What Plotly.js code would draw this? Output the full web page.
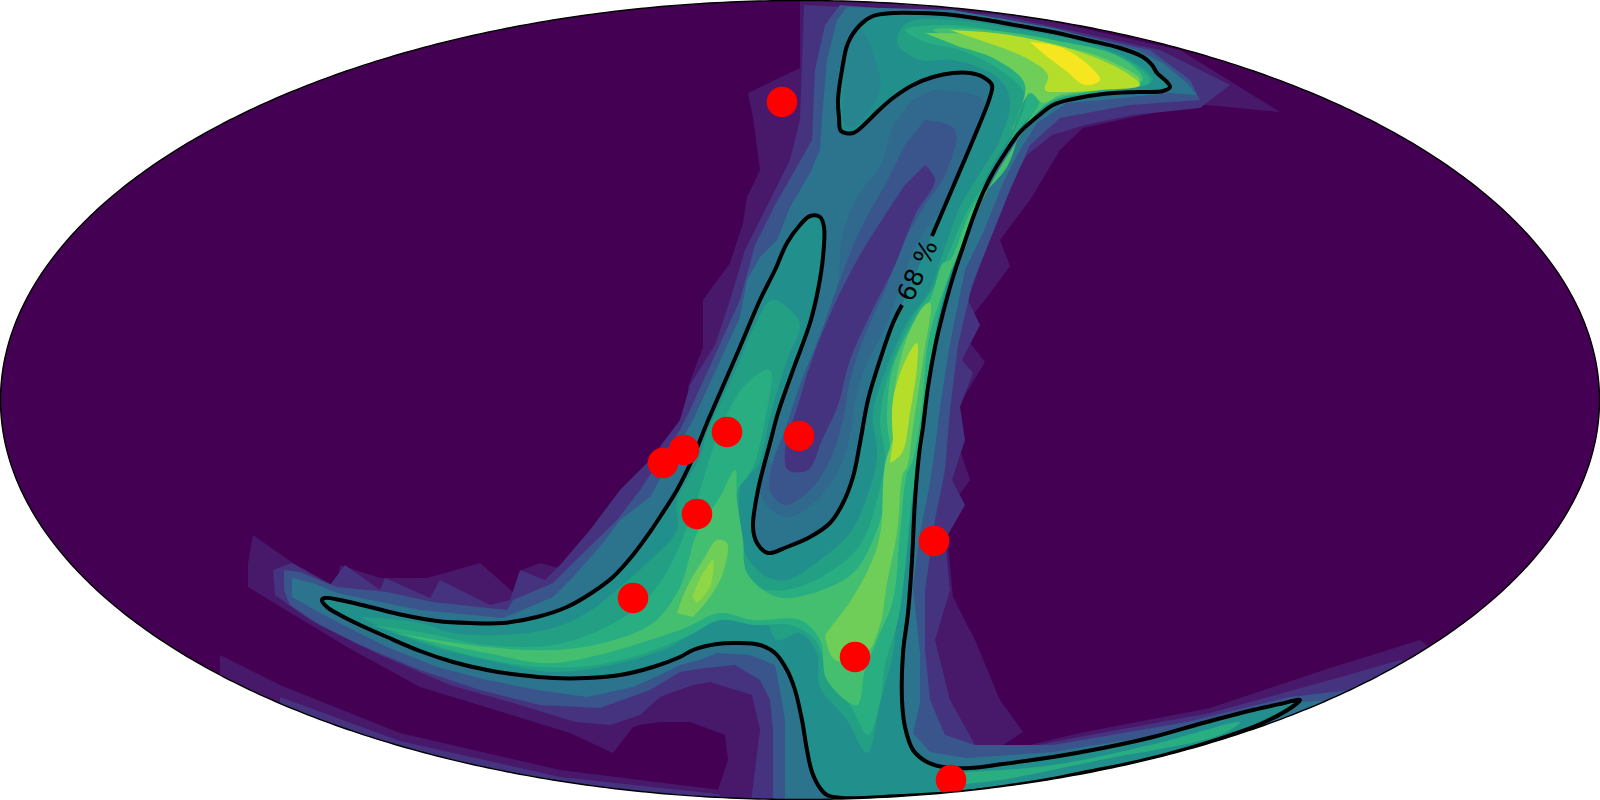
<!DOCTYPE html>
<html>
<head>
<meta charset="utf-8">
<script src="https://cdn.plot.ly/plotly-3.0.1.min.js"></script>
<style>html,body{margin:0;padding:0;background:#fff}</style>
</head>
<body>
<div id="graph" style="width:1600px;height:800px"></div>
<script>

// probability levels, outermost first (viridis)
const bgColor = "#440154";
const levelColors = ["#48186a", "#46337f", "#3a548c", "#2c738e", "#21908d", "#28ae80", "#44bf70", "#6ece58", "#b5de2b", "#f6e620"];
const midColors = { valley: "#31688e", arm: "#23a083", hook: "#26858e", blob: "#8fd744" };

const edgeFaint = [[220,655],[280,685],[400,733],[560,770],[720,790],[800,795],[800,815],[400,815],[220,720]];
const edgeStripe = [[280,697],[400,741],[560,777],[745,797],[745,815],[400,815],[280,720]];

const level1 = [[800,-5],[1000,10],[1180,50],[1280,112],[1197,104],[1133,117],[1083,128],[1060,150],[1030,200],[1000,240],[1010,266],[985,300],[960,330],[985,362],[950,420],[970,480],[945,515],[953,597],[975,640],[1000,700],[1023,732],[988,755],[1080,733],[1210,708],[1330,668],[1420,640],[1500,700],[1000,850],[735,850],[718,790],[728,760],[725,735],[690,722],[660,722],[640,725],[633,727],[613,753],[570,733],[420,687],[347,647],[248,587],[248,563],[253,535],[293,563],[337,587],[340,565],[380,578],[427,578],[480,563],[513,592],[522,570],[540,563],[567,570],[590,540],[620,520],[640,497],[660,450],[693,417],[688,387],[703,347],[703,300],[730,263],[743,223],[747,197],[760,170],[753,117],[748,93],[800,68]];
const level2 = [[804,5],[1000,15],[1160,50],[1230,85],[1200,108],[1133,115],[1085,125],[1052,135],[1027,155],[1007,190],[990,230],[975,280],[968,300],[980,325],[962,360],[973,373],[960,407],[965,440],[952,480],[965,505],[945,540],[950,590],[935,640],[950,700],[975,745],[987,755],[1090,735],[1210,713],[1330,680],[1400,660],[1500,700],[1000,850],[745,850],[760,730],[752,695],[710,682],[693,685],[660,697],[640,715],[610,725],[575,722],[520,705],[450,685],[380,655],[310,620],[275,595],[273,570],[292,563],[330,585],[345,565],[380,590],[385,578],[430,598],[440,580],[490,605],[510,600],[520,570],[545,580],[560,565],[590,530],[620,490],[650,460],[680,420],[690,385],[715,345],[730,300],[745,250],[770,200],[790,160],[800,120]];
const level3 = [[284,570],[300,572],[337,587],[387,592],[433,602],[480,607],[507,610],[513,600],[553,583],[573,563],[600,537],[617,520],[640,490],[680,430],[690,410],[722,340],[740,300],[755,245],[775,205],[795,170],[812,140],[815,70],[825,25],[840,5],[1000,18],[1150,50],[1190,80],[1200,100],[1130,105],[1060,118],[1030,145],[1010,190],[990,240],[972,285],[958,345],[950,410],[945,470],[935,520],[925,590],[925,650],[930,700],[945,735],[975,745],[1053,745],[1187,722],[1290,697],[1350,690],[1400,700],[1000,850],[773,850],[773,730],[770,700],[760,680],[735,665],[705,668],[680,672],[650,690],[600,708],[540,705],[480,690],[420,670],[360,645],[320,625],[290,605],[284,590]];
const level4 = [[292,578],[313,583],[337,593],[420,610],[503,618],[553,597],[573,577],[603,543],[620,520],[650,497],[693,420],[740,317],[747,280],[760,257],[777,240],[790,207],[810,173],[820,150],[822,117],[827,60],[837,20],[847,7],[953,10],[1053,28],[1137,50],[1163,63],[1187,83],[1197,95],[1170,93],[1103,100],[1067,103],[1037,123],[1020,150],[1003,183],[983,233],[965,270],[950,343],[940,407],[937,433],[930,483],[920,533],[913,587],[920,653],[920,703],[913,733],[930,752],[967,758],[1053,752],[1187,730],[1287,703],[1330,700],[1400,720],[1000,850],[785,850],[785,720],[780,690],[775,665],[750,655],[717,653],[700,660],[680,665],[660,675],[633,687],[587,697],[537,690],[487,680],[437,667],[387,647],[353,630],[320,613],[292,597]];

// low valley between the two arms, painted over the level 4 area
const valleyMid = [[933,90],[983,100],[973,133],[950,200],[933,220],[917,243],[900,287],[887,323],[863,373],[853,413],[853,420],[840,467],[817,500],[787,517],[763,500],[763,457],[777,467],[793,407],[813,357],[837,290],[843,233],[860,193],[880,167],[893,127],[913,100]];
const valleyBlue = [[925,120],[955,130],[945,175],[925,205],[905,240],[885,290],[865,335],[850,380],[843,420],[830,460],[810,490],[785,505],[770,490],[772,465],[785,430],[800,385],[820,335],[840,280],[860,230],[885,185],[905,145]];
const valleyPurple = [[925,165],[935,180],[915,215],[895,265],[870,315],[850,360],[838,405],[822,440],[808,470],[788,470],[785,450],[798,405],[812,360],[832,310],[860,255],[885,215],[905,185]];

// level 5 is the inside of the contour, the rest are the ridges
const hookLeft = [[846,40],[860,28],[875,60],[880,90],[853,127],[845,125],[843,100]];
const armLevel = [[360,617],[420,623],[453,633],[503,635],[553,628],[587,613],[620,587],[647,563],[677,530],[677,500],[700,457],[707,433],[737,367],[755,325],[772,300],[790,310],[800,325],[787,360],[770,417],[757,467],[743,477],[740,527],[747,557],[767,577],[787,580],[820,560],[850,533],[867,497],[877,457],[873,413],[887,367],[907,323],[930,290],[943,253],[960,207],[980,173],[1000,140],[1010,100],[997,77],[953,60],[920,60],[897,43],[907,23],[953,20],[1020,30],[1087,43],[1130,60],[1153,80],[1103,93],[1053,103],[1020,127],[997,157],[980,190],[960,233],[943,283],[932,340],[925,400],[922,450],[913,467],[907,517],[903,573],[897,617],[893,653],[880,703],[867,753],[847,720],[820,687],[817,653],[800,633],[777,640],[763,617],[720,620],[693,633],[670,647],[620,663],[553,672],[487,660],[437,648],[387,630]];
const level6 = [[370,625],[420,632],[487,645],[553,645],[600,630],[640,605],[665,575],[690,520],[700,490],[720,430],[745,385],[770,370],[765,420],[752,470],[738,490],[730,530],[733,560],[750,585],[785,590],[825,575],[860,545],[877,500],[885,455],[880,420],[890,370],[912,320],[935,285],[950,250],[965,215],[990,175],[1015,130],[1025,95],[1000,70],[960,50],[925,42],[905,30],[950,25],[1020,35],[1090,48],[1135,65],[1150,82],[1100,92],[1055,100],[1025,122],[1003,155],[985,188],[965,233],[948,280],[935,335],[928,400],[920,450],[912,500],[905,570],[898,620],[885,665],[880,703],[868,735],[850,705],[830,680],[815,640],[790,625],[755,625],[720,620],[690,635],[640,655],[580,667],[520,665],[450,650],[400,633]];
const tailRight = [[965,772],[1053,765],[1150,745],[1240,722],[1220,735],[1100,760],[1000,780],[950,785]];
const level7 = [[390,632],[487,647],[553,650],[603,643],[653,623],[680,587],[697,533],[720,497],[735,470],[737,500],[743,540],[747,573],[777,597],[813,593],[853,573],[873,540],[887,493],[890,450],[887,417],[893,367],[917,317],[930,300],[943,263],[950,260],[973,207],[1007,167],[1020,133],[1040,97],[1010,67],[967,43],[933,30],[987,30],[1053,40],[1120,57],[1143,80],[1087,92],[1053,100],[1033,117],[1013,147],[993,180],[967,233],[930,333],[922,407],[913,460],[907,473],[900,533],[893,600],[877,640],[865,670],[857,705],[827,680],[820,640],[800,620],[753,620],[720,613],[680,630],[553,663],[487,653],[437,643]];
const blobLeft = [[677,613],[687,587],[703,560],[717,540],[727,543],[723,573],[710,597],[693,617]];
const blobLeftCore = [[692,597],[703,573],[713,560],[710,587],[697,603]];
const blobRight = [[848,605],[868,570],[880,535],[885,465],[897,423],[893,417],[903,350],[923,307],[930,303],[923,360],[913,427],[907,467],[903,473],[897,533],[887,583],[880,625],[865,655],[835,660],[825,635]];
const blobHook = [[925,33],[987,35],[1053,45],[1103,58],[1140,80],[1100,90],[1060,95],[1043,103],[1030,93],[1012,130],[1025,85],[997,60],[960,47]];
const ridgeHook = [[950,30],[1010,35],[1080,52],[1125,72],[1140,85],[1100,90],[1060,92],[1045,90],[1048,75],[1030,60],[1000,47]];
const ridgeArm = [[893,440],[893,400],[907,357],[917,343],[917,367],[910,413],[902,453],[890,463]];
const peakHook = [[1030,42],[1060,47],[1085,62],[1100,80],[1085,85],[1065,70],[1045,55]];

// 68 % contour, one open line, the gap is where the label sits
const contour68 = [[932,236],[953,187],[973,140],[990,97],[992,85],[983,77],[970,73],[953,73],[933,77],[913,85],[893,98],[877,112],[867,122],[853,133],[841,131],[839,117],[838,100],[842,70],[848,43],[860,25],[873,16],[893,13],[920,13],[953,15],[987,20],[1020,26],[1053,32],[1087,40],[1120,48],[1143,57],[1152,65],[1157,73],[1167,82],[1170,87],[1163,91],[1137,92],[1103,94],[1073,99],[1053,105],[1037,117],[1020,132],[1007,150],[990,178],[977,207],[963,247],[953,277],[943,313],[935,347],[928,387],[923,427],[919,455],[915,500],[912,560],[908,613],[903,653],[902,700],[905,727],[913,750],[927,762],[943,767],[970,768],[1003,764],[1053,757],[1103,748],[1153,737],[1203,723],[1253,710],[1280,704],[1300,700],[1292,707],[1267,721],[1237,733],[1187,749],[1137,762],[1087,772],[1053,779],[1003,787],[953,793],[900,796],[843,798],[827,795],[820,788],[812,772],[807,750],[802,720],[795,690],[787,670],[775,653],[760,645],[737,643],[717,644],[693,650],[680,657],[653,667],[620,675],[587,678],[553,678],[520,675],[487,670],[453,662],[420,651],[387,637],[360,625],[340,615],[327,607],[322,600],[325,598],[340,600],[370,607],[403,615],[437,621],[470,623],[503,623],[537,617],[567,607],[593,592],[613,577],[633,555],[650,532],[660,517],[677,490],[692,460],[707,423],[720,393],[740,347],[760,300],[775,270],[787,243],[800,225],[810,216],[820,217],[824,227],[823,257],[818,290],[810,323],[793,370],[778,413],[770,443],[758,490],[753,527],[757,543],[768,553],[787,547],[810,537],[830,523],[843,503],[853,477],[860,443],[868,400],[880,360],[893,323],[902,305]];

const injX = [782, 663, 684, 727, 799, 697, 633, 934, 855, 951];
const injY = [102, 463, 450, 432, 436, 514, 598, 541, 657, 780];

function band(pts, color, smooth) {
    return {
        x: pts.map(p => p[0]),
        y: pts.map(p => p[1]),
        type: "scatter",
        mode: "lines",
        fill: "toself",
        fillcolor: color,
        line: { width: 0, shape: smooth ? "spline" : "linear", smoothing: 1 },
        hoverinfo: "skip"
    };
}

// map frame as a path, plotly shapes do not take arcs
let frame = "";
for (let i = 0; i <= 720; i++) {
    const t = i * Math.PI / 360;
    frame += (i ? "L" : "M") + (800 + 799.5 * Math.cos(t)).toFixed(2) + "," + (400 + 399.5 * Math.sin(t)).toFixed(2) + " ";
}
frame += "Z";

const c = levelColors;
const data = [
    band(edgeFaint, c[0]),
    band(edgeStripe, c[1]),
    band(level1, c[0]),
    band(level2, c[1]),
    band(level3, c[2]),
    band(level4, c[3]),
    band(valleyMid, midColors.valley, true),
    band(valleyBlue, c[2], true),
    band(valleyPurple, c[1], true),
    band(contour68, c[4], true),
    band(hookLeft, midColors.hook, true),
    band(armLevel, midColors.arm, true),
    band(level6, c[5], true),
    band(tailRight, c[5], true),
    band(level7, c[6], true),
    band(blobLeft, c[7], true),
    band(blobLeftCore, midColors.blob, true),
    band(blobRight, c[7], true),
    band(blobHook, c[7], true),
    band(ridgeHook, c[8], true),
    band(ridgeArm, c[8], true),
    band(peakHook, c[9], true),
    {
        x: contour68.map(p => p[0]),
        y: contour68.map(p => p[1]),
        type: "scatter",
        mode: "lines",
        line: { color: "black", width: 4, shape: "spline", smoothing: 1 },
        hoverinfo: "skip"
    },
    {
        x: injX,
        y: injY,
        type: "scatter",
        mode: "markers",
        marker: { color: "#ff0000", size: 30.5, line: { width: 0 } },
        hoverinfo: "skip"
    }
];

const layout = {
    width: 1600,
    height: 800,
    margin: { l: 0, r: 0, t: 0, b: 0 },
    showlegend: false,
    paper_bgcolor: "white",
    plot_bgcolor: bgColor,
    xaxis: { range: [0, 1600], visible: false, fixedrange: true },
    yaxis: { range: [800, 0], visible: false, fixedrange: true },
    annotations: [{
        x: 917, y: 270, xref: "x", yref: "y",
        text: "68 %", showarrow: false, textangle: -66,
        font: { family: "DejaVu Sans", size: 25, color: "black" }
    }],
    shapes: [
        // white outside the map, then the frame
        {
            type: "path", xref: "x", yref: "y", layer: "above",
            path: "M-5,-5 L1605,-5 L1605,805 L-5,805 Z " + frame,
            fillcolor: "white", line: { width: 0 }
        },
        {
            type: "path", xref: "x", yref: "y", layer: "above",
            path: frame,
            fillcolor: "rgba(0,0,0,0)",
            line: { color: "black", width: 1.4 }
        }
    ]
};

Plotly.newPlot("graph", data, layout, { displayModeBar: false, staticPlot: true });
</script>
</body>
</html>
